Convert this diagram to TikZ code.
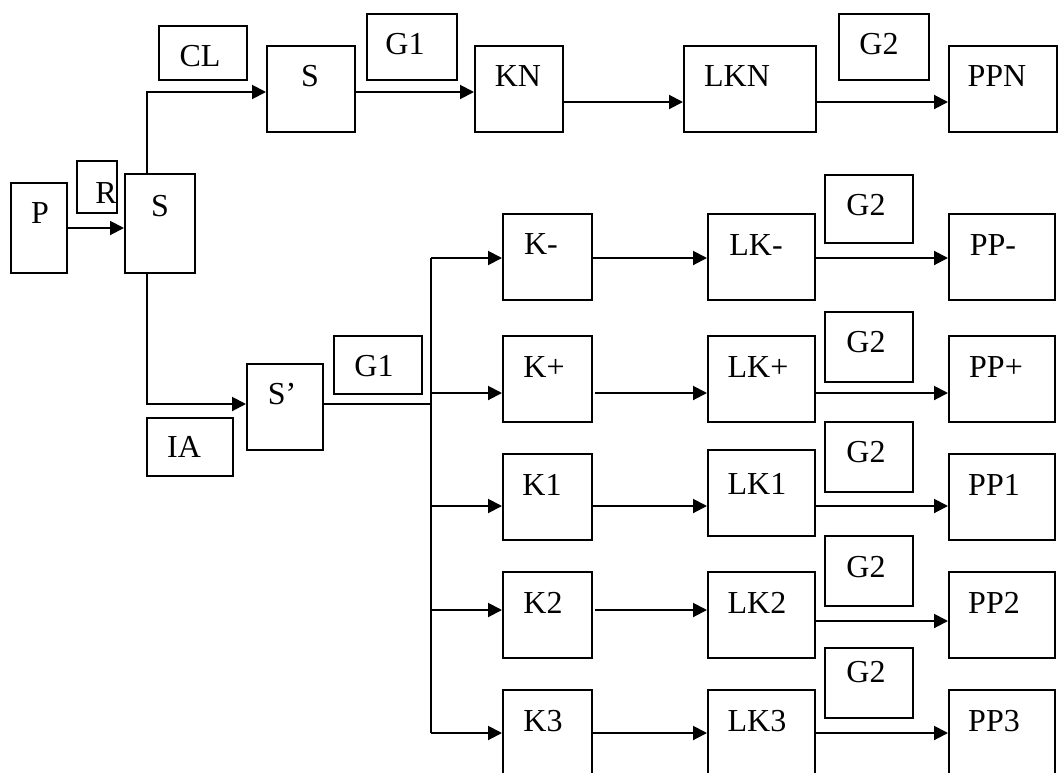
\documentclass[tikz,border=0pt]{standalone}
\usepackage{fontspec}
\setmainfont{Liberation Serif}
\usetikzlibrary{arrows.meta}
\tikzset{
  box/.style={draw, rectangle, inner sep=0pt, line width=2pt},
  txt/.style={inner sep=0pt, font=\fontsize{32}{38}\selectfont},
  conn/.style={line width=2pt},
  arr/.style={conn, -{Triangle[length=14pt,width=14pt]}},
}
\newcommand{\bx}[5]{\node[box, minimum width={(#4-#2)*1pt}, minimum height={(#5-#3)*1pt}] (#1) at ({(#2+#4)/2},{(#3+#5)/2}) {};}
\begin{document}
\begin{tikzpicture}[x=1pt,y=-1pt]
\clip (0,0) rectangle (1058,772);
\fill[white] (0,0) rectangle (1058,772);
% boxes
\bx{P}{11}{183}{67}{273}
\bx{R}{77}{161}{117}{213}
\bx{S0}{125}{174}{195}{273}
\bx{CL}{159}{26}{247}{80}
\bx{S1}{267}{46}{355}{132}
\bx{G1a}{367}{14}{457}{80}
\bx{KN}{475}{46}{563}{132}
\bx{LKN}{684}{46}{816}{132}
\bx{G2a}{839}{14}{929}{80}
\bx{PPN}{949}{46}{1057}{132}
\bx{Sp}{247}{364}{323}{450}
\bx{IA}{147}{418}{233}{476}
\bx{G1b}{334}{336}{422}{394}
\bx{Km}{503}{214}{592}{300}
\bx{Kp}{503}{336}{592}{422}
\bx{K1}{503}{454}{592}{540}
\bx{K2}{503}{572}{592}{658}
\bx{K3}{503}{690}{592}{776}
\bx{LKm}{708}{214}{815}{300}
\bx{LKp}{708}{336}{815}{422}
\bx{LK1}{708}{450}{815}{536}
\bx{LK2}{708}{572}{815}{658}
\bx{LK3}{708}{690}{815}{776}
\bx{G2m}{825}{175}{913}{243}
\bx{G2p}{825}{312}{913}{382}
\bx{G21}{825}{422}{913}{492}
\bx{G22}{825}{536}{913}{606}
\bx{G23}{825}{648}{913}{718}
\bx{PPm}{949}{214}{1055}{300}
\bx{PPp}{949}{336}{1055}{422}
\bx{PP1}{949}{454}{1055}{540}
\bx{PP2}{949}{572}{1055}{658}
\bx{PP3}{949}{690}{1055}{776}
% texts
\node[txt] (tP) at (40,213) {P};
\node[txt] (tR) at (106,193) {R};
\node[txt] (tS0) at (160,206) {S};
\node[txt] (tCL) at (200,56) {CL};
\node[txt] (tS1) at (310,76) {S};
\node[txt] (tG1a) at (405,44) {G1};
\node[txt] (tKN) at (518,76) {KN};
\node[txt] (tLKN) at (737,76) {LKN};
\node[txt] (tG2a) at (879,44) {G2};
\node[txt] (tPPN) at (997,76) {PPN};
\node[txt] (tSp) at (282,394) {S’};
\node[txt] (tIA) at (184,447) {IA};
\node[txt] (tG1b) at (374,366) {G1};
\node[txt] (tKm) at (541,244) {K-};
\node[txt] (tKp) at (544,367) {K+};
\node[txt] (tK1) at (542,485) {K1};
\node[txt] (tK2) at (543,603) {K2};
\node[txt] (tK3) at (543,721) {K3};
\node[txt] (tLKm) at (756,245) {LK-};
\node[txt] (tLKp) at (758,367) {LK+};
\node[txt] (tLK1) at (757,484) {LK1};
\node[txt] (tLK2) at (757,603) {LK2};
\node[txt] (tLK3) at (757,721) {LK3};
\node[txt] (tG2m) at (866,205) {G2};
\node[txt] (tG2p) at (866,342) {G2};
\node[txt] (tG21) at (866,452) {G2};
\node[txt] (tG22) at (866,567) {G2};
\node[txt] (tG23) at (866,672) {G2};
\node[txt] (tPPm) at (993,245) {PP-};
\node[txt] (tPPp) at (996,367) {PP+};
\node[txt] (tPP1) at (994,485) {PP1};
\node[txt] (tPP2) at (994,603) {PP2};
\node[txt] (tPP3) at (994,721) {PP3};
% connectors
\draw[arr] (P.east |- 0,228) -- (S0.west |- 0,228);
\draw[arr] (S0.north -| 147,0) |- (S1.west |- 0,92);
\draw[arr] (S0.south -| 147,0) |- (Sp.west |- 0,404);
\draw[arr] (S1.east |- 0,92) -- (KN.west |- 0,92);
\draw[arr] (KN.east |- 0,102) -- (LKN.west |- 0,102);
\draw[arr] (LKN.east |- 0,102) -- (PPN.west |- 0,102);
\coordinate (jn) at (431,404);
\coordinate (jtop) at (431,258);
\coordinate (jbot) at (431,733);
\draw[conn] (Sp.east |- 0,404) -- (jn);
\draw[conn] (jtop) -- (jbot);
\draw[arr] (jtop) -- (Km.west |- 0,258);
\draw[arr] (jtop |- 0,393) -- (Kp.west |- 0,393);
\draw[arr] (jtop |- 0,506) -- (K1.west |- 0,506);
\draw[arr] (jtop |- 0,610) -- (K2.west |- 0,610);
\draw[arr] (jbot) -- (K3.west |- 0,733);
\draw[arr] (Km.east |- 0,258) -- (LKm.west |- 0,258);
\draw[arr] ([xshift=2pt]Kp.east |- 0,393) -- (LKp.west |- 0,393);
\draw[arr] (K1.east |- 0,506) -- (LK1.west |- 0,506);
\draw[arr] ([xshift=2pt]K2.east |- 0,610) -- (LK2.west |- 0,610);
\draw[arr] (K3.east |- 0,733) -- (LK3.west |- 0,733);
\draw[arr] (LKm.east |- 0,258) -- (PPm.west |- 0,258);
\draw[arr] (LKp.east |- 0,393) -- (PPp.west |- 0,393);
\draw[arr] (LK1.east |- 0,506) -- (PP1.west |- 0,506);
\draw[arr] (LK2.east |- 0,621) -- (PP2.west |- 0,621);
\draw[arr] (LK3.east |- 0,733) -- (PP3.west |- 0,733);
\end{tikzpicture}
\end{document}
